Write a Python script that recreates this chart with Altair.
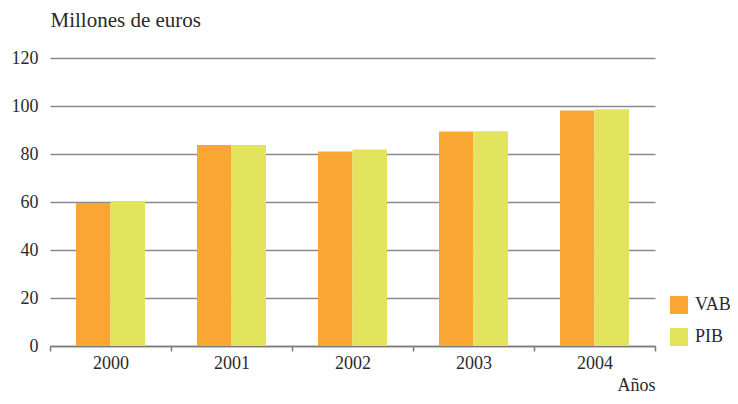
import altair as alt
import pandas as pd

years = ["2000", "2001", "2002", "2003", "2004"]
vab = [59.6, 83.7, 81.0, 89.4, 98.1]
pib = [60.4, 83.7, 81.9, 89.5, 98.6]
series = ["VAB", "PIB"]
colors = ["#F9A633", "#E1E45C"]

rows = []
for i, y in enumerate(years):
    rows.append({"Año": y, "Serie": "VAB", "Valor": vab[i]})
    rows.append({"Año": y, "Serie": "PIB", "Valor": pib[i]})
df = pd.DataFrame(rows)

FONT = "Liberation Serif"
TXT = "#2a2a2a"

chart = alt.Chart(df).mark_bar().encode(
    x=alt.X("Año:N", sort=years,
            scale=alt.Scale(paddingInner=0, paddingOuter=0),
            axis=alt.Axis(title="Años", labelAngle=0, tickBand="extent",
                          domainColor="#7a7a7a", domainWidth=1.5,
                          tickColor="#7a7a7a", tickWidth=1.5, tickSize=5,
                          labelPadding=3, labelFontSize=18, labelFont=FONT, labelColor=TXT,
                          titleFont=FONT, titleFontSize=18, titleFontWeight="normal", titleColor=TXT,
                          titleX=605, titleY=44, titleAlign="right", titleBaseline="alphabetic",
                          grid=False)),
    xOffset=alt.XOffset("Serie:N", sort=series,
                        scale=alt.Scale(paddingInner=0, paddingOuter=0.754)),
    y=alt.Y("Valor:Q", scale=alt.Scale(domain=[0, 120]),
            axis=alt.Axis(title="Millones de euros", values=[0, 20, 40, 60, 80, 100, 120],
                          domain=False, ticks=False, labelPadding=12,
                          labelFontSize=18, labelFont=FONT, labelColor=TXT,
                          gridColor="#8a8a8a", gridWidth=1.5,
                          titleFont=FONT, titleFontSize=21, titleFontWeight="normal", titleColor=TXT,
                          titleAngle=0, titleX=0, titleY=-32, titleAlign="left",
                          titleBaseline="alphabetic")),
    color=alt.Color("Serie:N", sort=series,
                    scale=alt.Scale(domain=series, range=colors),
                    legend=alt.Legend(title=None, orient="none", legendX=620, legendY=238,
                                      symbolType="square", symbolSize=324, symbolStrokeWidth=0,
                                      symbolOpacity=1, rowPadding=14, labelOffset=7,
                                      labelFont=FONT, labelFontSize=18, labelColor=TXT)),
).properties(
    width=605, height=288,
    autosize=alt.AutoSizeParams(type="none"),
    padding={"left": 42, "top": 50, "right": 75, "bottom": 50},
).configure_view(stroke=None)

chart.save("out.html", embed_options={"renderer": "svg", "actions": False})
